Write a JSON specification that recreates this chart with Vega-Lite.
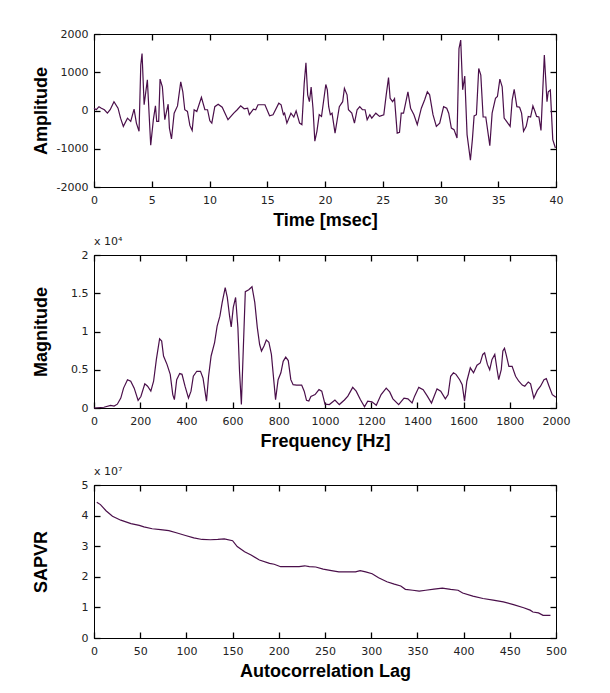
{
  "$schema": "https://vega.github.io/schema/vega-lite/v6.json",
  "background": "white",
  "padding": {"left": 31, "top": 27, "right": 10, "bottom": 10},
  "datasets": {
    "amp": [
      {"t":0,"a":60},{"t":0.2,"a":20},{"t":0.43,"a":100},{"t":0.64,"a":60},{"t":0.9,"a":20},{"t":1.16,"a":-70},{"t":1.4,"a":20},{"t":1.73,"a":230},{"t":2.08,"a":60},{"t":2.3,"a":-200},{"t":2.54,"a":-415},{"t":2.9,"a":-200},{"t":3.18,"a":-285},{"t":3.47,"a":35},{"t":3.67,"a":-330},{"t":3.9,"a":-545},{"t":4.05,"a":1190},{"t":4.16,"a":1490},{"t":4.34,"a":150},{"t":4.62,"a":800},{"t":4.91,"a":-910},{"t":5.14,"a":-240},{"t":5.32,"a":120},{"t":5.43,"a":-285},{"t":5.6,"a":-285},{"t":5.72,"a":820},{"t":5.92,"a":620},{"t":6.13,"a":-240},{"t":6.42,"a":165},{"t":6.53,"a":-460},{"t":6.71,"a":-745},{"t":6.94,"a":-70},{"t":7.23,"a":120},{"t":7.51,"a":750},{"t":7.69,"a":490},{"t":7.86,"a":20},{"t":8.09,"a":-25},{"t":8.3,"a":-390},{"t":8.5,"a":-520},{"t":8.67,"a":20},{"t":8.9,"a":-25},{"t":9.3,"a":345},{"t":9.6,"a":20},{"t":9.83,"a":20},{"t":10.03,"a":-270},{"t":10.2,"a":-330},{"t":10.46,"a":100},{"t":10.75,"a":165},{"t":11.1,"a":85},{"t":11.6,"a":-240},{"t":12.1,"a":-70},{"t":12.4,"a":20},{"t":12.7,"a":120},{"t":13.0,"a":45},{"t":13.3,"a":60},{"t":13.45,"a":-110},{"t":13.8,"a":35},{"t":14.0,"a":20},{"t":14.2,"a":150},{"t":14.6,"a":150},{"t":14.8,"a":150},{"t":15.2,"a":-140},{"t":15.5,"a":-110},{"t":16.0,"a":190},{"t":16.2,"a":150},{"t":16.4,"a":-110},{"t":16.5,"a":-70},{"t":16.7,"a":-330},{"t":17.05,"a":-70},{"t":17.3,"a":-170},{"t":17.5,"a":-10},{"t":17.8,"a":-330},{"t":18.0,"a":-370},{"t":18.2,"a":710},{"t":18.35,"a":1250},{"t":18.5,"a":410},{"t":18.65,"a":230},{"t":18.8,"a":610},{"t":18.96,"a":60},{"t":19.12,"a":-800},{"t":19.3,"a":-545},{"t":19.5,"a":-110},{"t":19.7,"a":-155},{"t":20.07,"a":680},{"t":20.2,"a":540},{"t":20.32,"a":100},{"t":20.46,"a":-110},{"t":20.61,"a":-70},{"t":20.87,"a":-590},{"t":21.24,"a":100},{"t":21.53,"a":230},{"t":21.68,"a":580},{"t":21.91,"a":410},{"t":22.03,"a":20},{"t":22.32,"a":-70},{"t":22.55,"a":-330},{"t":22.78,"a":20},{"t":23.01,"a":100},{"t":23.24,"a":20},{"t":23.47,"a":20},{"t":23.65,"a":-240},{"t":23.88,"a":-110},{"t":24.05,"a":-200},{"t":24.4,"a":-70},{"t":24.72,"a":-155},{"t":25.09,"a":-110},{"t":25.3,"a":410},{"t":25.5,"a":860},{"t":25.64,"a":320},{"t":25.85,"a":230},{"t":26.02,"a":310},{"t":26.25,"a":-590},{"t":26.45,"a":-570},{"t":26.6,"a":-70},{"t":26.8,"a":-70},{"t":27.18,"a":490},{"t":27.41,"a":60},{"t":27.7,"a":-110},{"t":27.99,"a":-370},{"t":28.34,"a":60},{"t":28.63,"a":280},{"t":28.86,"a":490},{"t":29.06,"a":410},{"t":29.35,"a":-110},{"t":29.64,"a":-415},{"t":29.93,"a":-330},{"t":30.27,"a":100},{"t":30.54,"a":60},{"t":30.71,"a":-70},{"t":30.94,"a":-460},{"t":31.17,"a":-500},{"t":31.43,"a":-720},{"t":31.6,"a":1620},{"t":31.75,"a":1840},{"t":31.92,"a":540},{"t":32.1,"a":900},{"t":32.3,"a":-630},{"t":32.59,"a":-1300},{"t":32.76,"a":-760},{"t":32.91,"a":-140},{"t":33.11,"a":-110},{"t":33.31,"a":1100},{"t":33.49,"a":925},{"t":33.69,"a":-170},{"t":33.92,"a":-170},{"t":34.27,"a":-920},{"t":34.47,"a":-70},{"t":34.76,"a":320},{"t":34.93,"a":365},{"t":35.14,"a":820},{"t":35.34,"a":620},{"t":35.51,"a":-200},{"t":35.72,"a":-285},{"t":36.03,"a":-415},{"t":36.21,"a":280},{"t":36.38,"a":555},{"t":36.61,"a":100},{"t":36.85,"a":85},{"t":37.02,"a":-70},{"t":37.19,"a":-545},{"t":37.42,"a":-415},{"t":37.6,"a":-155},{"t":37.8,"a":-170},{"t":38.0,"a":120},{"t":38.18,"a":-25},{"t":38.32,"a":-155},{"t":38.52,"a":-170},{"t":38.7,"a":-520},{"t":38.99,"a":1450},{"t":39.22,"a":230},{"t":39.33,"a":490},{"t":39.51,"a":535},{"t":39.72,"a":-760},{"t":39.95,"a":-980}
    ],
    "mag": [
      {"f":0,"m":0},{"f":43,"m":100},{"f":72,"m":350},{"f":87,"m":260},{"f":101,"m":500},{"f":116,"m":1300},{"f":128,"m":2600},{"f":145,"m":3700},{"f":159,"m":3500},{"f":174,"m":2600},{"f":191,"m":1000},{"f":203,"m":1500},{"f":220,"m":3150},{"f":232,"m":2850},{"f":246,"m":2200},{"f":258,"m":3500},{"f":270,"m":6350},{"f":284,"m":9050},{"f":293,"m":8750},{"f":301,"m":6800},{"f":316,"m":5700},{"f":330,"m":4400},{"f":341,"m":1750},{"f":348,"m":1100},{"f":358,"m":3700},{"f":371,"m":4500},{"f":381,"m":4400},{"f":394,"m":2850},{"f":409,"m":1300},{"f":420,"m":2200},{"f":430,"m":4150},{"f":445,"m":4800},{"f":461,"m":4800},{"f":472,"m":3900},{"f":487,"m":900},{"f":496,"m":4150},{"f":507,"m":6800},{"f":522,"m":8550},{"f":533,"m":10700},{"f":545,"m":12000},{"f":555,"m":13800},{"f":568,"m":15750},{"f":577,"m":14450},{"f":587,"m":12000},{"f":594,"m":10600},{"f":603,"m":13150},{"f":613,"m":14450},{"f":623,"m":10500},{"f":630,"m":4800},{"f":638,"m":450},{"f":646,"m":7450},{"f":655,"m":15200},{"f":670,"m":15450},{"f":684,"m":15850},{"f":696,"m":13800},{"f":707,"m":10500},{"f":717,"m":8300},{"f":725,"m":7450},{"f":736,"m":8100},{"f":746,"m":8900},{"f":757,"m":8600},{"f":768,"m":7000},{"f":780,"m":3050},{"f":786,"m":1100},{"f":797,"m":3700},{"f":809,"m":4600},{"f":819,"m":6100},{"f":830,"m":6650},{"f":841,"m":6200},{"f":852,"m":3700},{"f":862,"m":3050},{"f":877,"m":3000},{"f":899,"m":3000},{"f":910,"m":2200},{"f":920,"m":1000},{"f":930,"m":900},{"f":939,"m":1500},{"f":957,"m":1750},{"f":974,"m":2400},{"f":986,"m":2200},{"f":1000,"m":500},{"f":1019,"m":450},{"f":1043,"m":1050},{"f":1062,"m":450},{"f":1084,"m":1050},{"f":1099,"m":1550},{"f":1120,"m":2700},{"f":1135,"m":2200},{"f":1153,"m":1100},{"f":1171,"m":150},{"f":1185,"m":900},{"f":1203,"m":800},{"f":1222,"m":350},{"f":1243,"m":1750},{"f":1265,"m":2600},{"f":1280,"m":2100},{"f":1294,"m":1200},{"f":1319,"m":450},{"f":1342,"m":1300},{"f":1359,"m":1200},{"f":1377,"m":650},{"f":1388,"m":1550},{"f":1406,"m":2700},{"f":1425,"m":2400},{"f":1443,"m":1550},{"f":1461,"m":650},{"f":1485,"m":2500},{"f":1501,"m":2200},{"f":1521,"m":1200},{"f":1533,"m":1750},{"f":1544,"m":4150},{"f":1556,"m":4600},{"f":1567,"m":4400},{"f":1583,"m":3700},{"f":1594,"m":3050},{"f":1604,"m":900},{"f":1614,"m":3500},{"f":1629,"m":5250},{"f":1643,"m":4600},{"f":1658,"m":5600},{"f":1672,"m":5900},{"f":1683,"m":7000},{"f":1691,"m":7200},{"f":1703,"m":5700},{"f":1713,"m":5000},{"f":1723,"m":6350},{"f":1735,"m":7000},{"f":1745,"m":5000},{"f":1752,"m":3700},{"f":1763,"m":5000},{"f":1770,"m":7450},{"f":1777,"m":7800},{"f":1784,"m":7000},{"f":1796,"m":5450},{"f":1810,"m":5450},{"f":1825,"m":4150},{"f":1839,"m":3500},{"f":1854,"m":3000},{"f":1865,"m":2850},{"f":1880,"m":3400},{"f":1890,"m":3150},{"f":1904,"m":1300},{"f":1919,"m":2300},{"f":1933,"m":2850},{"f":1948,"m":3700},{"f":1958,"m":3850},{"f":1970,"m":2850},{"f":1984,"m":1750},{"f":2000,"m":1400}
    ],
    "sap": [
      {"lag":3,"s":44400000},{"lag":7,"s":43600000},{"lag":13,"s":41600000},{"lag":20,"s":39800000},{"lag":29,"s":38500000},{"lag":40,"s":37400000},{"lag":49,"s":36800000},{"lag":54,"s":36300000},{"lag":63,"s":35700000},{"lag":72,"s":35400000},{"lag":81,"s":35100000},{"lag":90,"s":34300000},{"lag":99,"s":33500000},{"lag":108,"s":32700000},{"lag":117,"s":32200000},{"lag":126,"s":32100000},{"lag":134,"s":32200000},{"lag":141,"s":32400000},{"lag":150,"s":31800000},{"lag":155,"s":29900000},{"lag":163,"s":28200000},{"lag":170,"s":27100000},{"lag":179,"s":25500000},{"lag":190,"s":24400000},{"lag":195,"s":24100000},{"lag":202,"s":23300000},{"lag":211,"s":23300000},{"lag":222,"s":23300000},{"lag":228,"s":23600000},{"lag":233,"s":23300000},{"lag":240,"s":23200000},{"lag":248,"s":22500000},{"lag":257,"s":22000000},{"lag":265,"s":21600000},{"lag":275,"s":21600000},{"lag":283,"s":21600000},{"lag":288,"s":22000000},{"lag":294,"s":21600000},{"lag":301,"s":21000000},{"lag":308,"s":19700000},{"lag":317,"s":18400000},{"lag":325,"s":17600000},{"lag":332,"s":17000000},{"lag":337,"s":15900000},{"lag":345,"s":15600000},{"lag":352,"s":15300000},{"lag":359,"s":15600000},{"lag":368,"s":16000000},{"lag":377,"s":16300000},{"lag":386,"s":15900000},{"lag":394,"s":15600000},{"lag":399,"s":14700000},{"lag":410,"s":13700000},{"lag":421,"s":12900000},{"lag":432,"s":12400000},{"lag":443,"s":11800000},{"lag":454,"s":10900000},{"lag":465,"s":9900000},{"lag":472,"s":9100000},{"lag":475,"s":8500000},{"lag":481,"s":8200000},{"lag":486,"s":7400000},{"lag":494,"s":7400000}
    ]
  },
  "config": {
    "view": {"stroke": "#000", "strokeWidth": 1},
    "axis": {
      "grid": false, "domain": true, "domainColor": "#000", "domainWidth": 1,
      "tickColor": "#000", "tickSize": -6, "tickWidth": 1.3,
      "labelFont": "DejaVu Sans", "labelFontSize": 11, "labelColor": "#222",
      "labelFlush": false,
      "titleFont": "Liberation Sans", "titleFontSize": 18, "titleFontWeight": "bold", "titleColor": "#000"
    },
    "axisX": {"labelPadding": 13, "titlePadding": 6},
    "axisY": {"labelPadding": 12, "titleX": -48, "titleBaseline": "alphabetic"},
    "title": {"font": "DejaVu Sans", "fontSize": 11, "fontWeight": "normal", "color": "#222", "anchor": "start", "frame": "group", "offset": 2}
  },
  "spacing": 14,
  "vconcat": [
    {
      "spacing": 5,
      "vconcat": [
        {
          "width": 462, "height": 153,
          "data": {"name": "amp"},
          "layer": [
            {
              "mark": {"type": "line", "color": "#4a0f4a", "strokeWidth": 1.2},
              "encoding": {
                "x": {"field": "t", "type": "quantitative", "scale": {"domain": [0, 40], "nice": false}, "axis": {"orient": "bottom", "values": [0,5,10,15,20,25,30,35,40], "labelExpr": "'' + datum.value", "title": "Time [msec]"}},
                "y": {"field": "a", "type": "quantitative", "scale": {"domain": [-2000, 2000], "nice": false}, "axis": {"orient": "left", "values": [-2000,-1000,0,1000,2000], "labelExpr": "'' + datum.value", "title": "Amplitude"}}
              }
            },
            {
              "mark": {"type": "line", "opacity": 0},
              "encoding": {
                "x": {"field": "t", "type": "quantitative", "axis": {"orient": "top", "values": [0,5,10,15,20,25,30,35,40], "labels": false, "title": null}},
                "y": {"field": "a", "type": "quantitative", "axis": {"orient": "right", "values": [-2000,-1000,0,1000,2000], "labels": false, "title": null}}
              }
            }
          ],
          "resolve": {"axis": {"x": "independent", "y": "independent"}}
        },
        {
          "width": 462, "height": 153,
          "title": {"text": "x 10⁴"},
          "data": {"name": "mag"},
          "layer": [
            {
              "mark": {"type": "line", "color": "#4a0f4a", "strokeWidth": 1.2},
              "encoding": {
                "x": {"field": "f", "type": "quantitative", "scale": {"domain": [0, 2000], "nice": false}, "axis": {"orient": "bottom", "values": [0,200,400,600,800,1000,1200,1400,1600,1800,2000], "labelExpr": "'' + datum.value", "title": "Frequency [Hz]"}},
                "y": {"field": "m", "type": "quantitative", "scale": {"domain": [0, 20000], "nice": false}, "axis": {"orient": "left", "values": [0,5000,10000,15000,20000], "labelExpr": "'' + datum.value / 10000", "title": "Magnitude"}}
              }
            },
            {
              "mark": {"type": "line", "opacity": 0},
              "encoding": {
                "x": {"field": "f", "type": "quantitative", "axis": {"orient": "top", "values": [0,200,400,600,800,1000,1200,1400,1600,1800,2000], "labels": false, "title": null}},
                "y": {"field": "m", "type": "quantitative", "axis": {"orient": "right", "values": [0,5000,10000,15000,20000], "labels": false, "title": null}}
              }
            }
          ],
          "resolve": {"axis": {"x": "independent", "y": "independent"}}
        }
      ]
    },
    {
      "width": 462, "height": 153,
      "title": {"text": "x 10⁷"},
      "data": {"name": "sap"},
      "layer": [
        {
          "mark": {"type": "line", "color": "#4a0f4a", "strokeWidth": 1.2},
          "encoding": {
            "x": {"field": "lag", "type": "quantitative", "scale": {"domain": [0, 500], "nice": false}, "axis": {"orient": "bottom", "values": [0,50,100,150,200,250,300,350,400,450,500], "labelExpr": "'' + datum.value", "title": "Autocorrelation Lag"}},
            "y": {"field": "s", "type": "quantitative", "scale": {"domain": [0, 50000000], "nice": false}, "axis": {"orient": "left", "values": [0,10000000,20000000,30000000,40000000,50000000], "labelExpr": "'' + datum.value / 10000000", "title": "SAPVR"}}
          }
        },
        {
          "mark": {"type": "line", "opacity": 0},
          "encoding": {
            "x": {"field": "lag", "type": "quantitative", "axis": {"orient": "top", "values": [0,50,100,150,200,250,300,350,400,450,500], "labels": false, "title": null}},
            "y": {"field": "s", "type": "quantitative", "axis": {"orient": "right", "values": [0,10000000,20000000,30000000,40000000,50000000], "labels": false, "title": null}}
          }
        }
      ],
      "resolve": {"axis": {"x": "independent", "y": "independent"}}
    }
  ]
}
